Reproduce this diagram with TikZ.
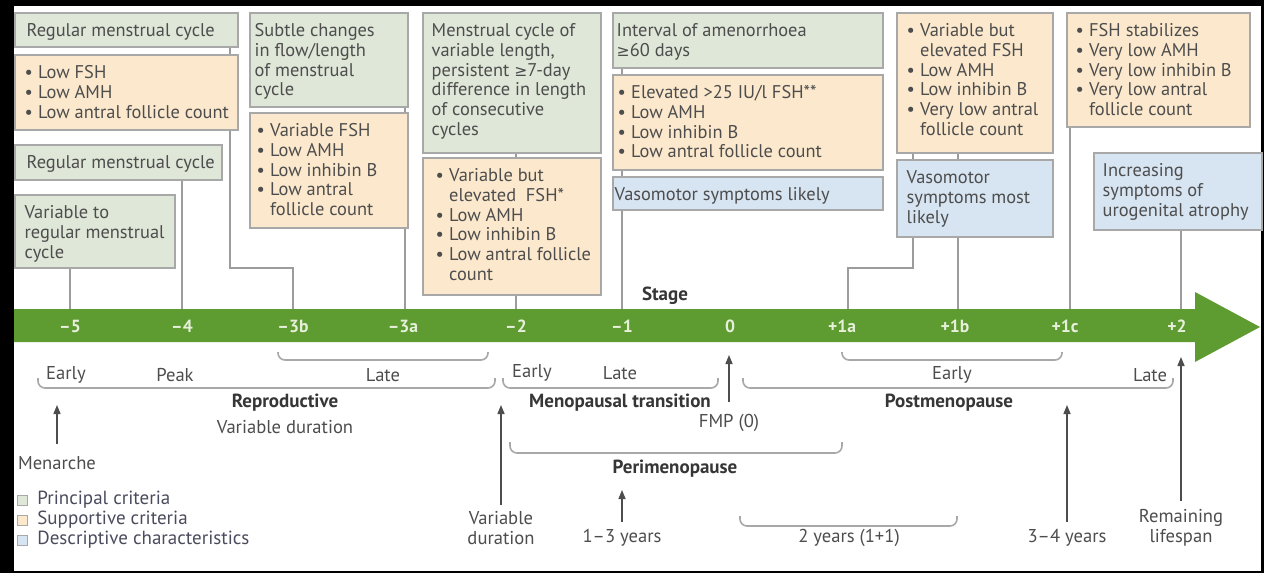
\documentclass[tikz,border=0pt]{standalone}
\usepackage{fontspec}
\setmainfont{PT Sans}
\newfontfamily\symf{DejaVu Sans}[Scale=0.85]
\usetikzlibrary{fit,arrows.meta}
\pgfdeclarelayer{frame}
\pgfdeclarelayer{back}
\pgfsetlayers{frame,back,main}
\definecolor{gfill}{HTML}{DFE7D8}
\definecolor{ofill}{HTML}{FCE9CD}
\definecolor{bfill}{HTML}{D7E4F1}
\definecolor{bord}{HTML}{A8A8A8}
\definecolor{agreen}{HTML}{5E9B31}
\definecolor{txtc}{HTML}{4D4D4D}
\definecolor{btxt}{HTML}{363636}
\definecolor{ticktxt}{HTML}{E6EFDA}
\definecolor{lnc}{HTML}{9C9C9C}
\definecolor{legc}{HTML}{4B4B5E}
\newcommand\plainL[1]{\begin{tabular}{@{}l@{}}#1\end{tabular}}
\newcommand\bulL[1]{\begin{tabular}{@{}l@{\hspace{2.6pt}}l@{}}#1\end{tabular}}
\newcommand\cb[8]{%
  \node[#1, fit={(#3,#4)(#5,#6)}] (#2) {};
  \node[txt, anchor=north west] (#2t) at ([xshift=#7,yshift=-5pt]#2.north west) {#8};
}
\begin{document}
\begin{tikzpicture}[x=0.5pt,y=-0.5pt,
  box/.style={draw=bord, line width=0.7pt, inner sep=0pt},
  gbox/.style={box, fill=gfill},
  obox/.style={box, fill=ofill},
  bbox/.style={box, fill=bfill},
  txt/.style={text=txtc, font=\fontsize{9.2}{9.9}\selectfont, inner sep=0pt},
  conn/.style={draw=lnc, line width=0.6pt},
  brc/.style={draw=bord, line width=0.8pt, rounded corners=3.5pt},
  uparr/.style={draw=txtc, line width=0.7pt, -{Triangle[length=4.5pt,width=3.5pt]}},
  lab/.style={text=txtc, font=\fontsize{9.3}{9.9}\selectfont, inner sep=1pt, align=center},
  blab/.style={lab, text=btxt, font=\fontsize{9.5}{9.9}\selectfont\bfseries},
  tick/.style={text=ticktxt, font=\fontsize{8.8}{9.7}\selectfont\bfseries, inner sep=0pt},
  lgsq/.style={draw=bord, line width=0.5pt, minimum size=5pt, inner sep=0pt},
  leg/.style={text=legc, font=\fontsize{9.5}{9.9}\selectfont, inner sep=1pt, anchor=west}]
\useasboundingbox (0,0) rectangle (1264,573);
\begin{pgfonlayer}{frame}
  \fill[black] (0,0) rectangle (1264,573);
  \fill[white] (14,6) rectangle (1261,571);
\end{pgfonlayer}

% boxes
\cb{gbox}{B1}{15}{13}{238}{47}{6pt}{\plainL{Regular menstrual cycle}}
\cb{obox}{B2}{15}{55}{238}{130}{5pt}{\bulL{\textbullet & Low FSH\\ \textbullet & Low AMH\\ \textbullet & Low antral follicle count}}
\cb{gbox}{B3}{15}{145}{222}{180}{6pt}{\plainL{Regular menstrual cycle}}
\cb{gbox}{B4}{15}{195}{175}{268}{5pt}{\plainL{Variable to\\ regular menstrual\\ cycle}}
\cb{gbox}{B5}{250}{13}{408}{107}{2.5pt}{\plainL{Subtle changes\\ in flow/length\\ of menstrual\\ cycle}}
\cb{obox}{B6}{250}{113}{408}{228}{3.5pt}{\bulL{\textbullet & Variable FSH\\ \textbullet & Low AMH\\ \textbullet & Low inhibin B\\ \textbullet & Low antral\\ & follicle count}}
\cb{gbox}{B7}{423}{13}{601}{153}{4.5pt}{\plainL{Menstrual cycle of\\ variable length,\\ persistent {\symf ≥}7-day\\ difference in length\\ of consecutive\\ cycles}}
\cb{obox}{B8}{423}{158}{601}{295}{6.5pt}{\bulL{\textbullet & Variable but\\ & elevated\ \ FSH*\\ \textbullet & Low AMH\\ \textbullet & Low inhibin B\\ \textbullet & Low antral follicle\\ & count}}
\cb{gbox}{B9}{613}{13}{883}{68}{2pt}{\plainL{Interval of amenorrhoea\\ {\symf ≥}60 days}}
\cb{obox}{B10}{613}{75}{883}{170}{2.5pt}{\bulL{\textbullet & Elevated >25 IU/l FSH**\\ \textbullet & Low AMH\\ \textbullet & Low inhibin B\\ \textbullet & Low antral follicle count}}
\cb{bbox}{B11}{613}{177}{883}{210}{1pt}{\plainL{Vasomotor symptoms likely}}
\cb{obox}{B12}{897}{13}{1053}{153}{5pt}{\bulL{\textbullet & Variable but\\ & elevated FSH\\ \textbullet & Low AMH\\ \textbullet & Low inhibin B\\ \textbullet & Very low antral\\ & follicle count}}
\cb{bbox}{B13}{897}{160}{1053}{237}{5pt}{\plainL{Vasomotor\\ symptoms most\\ likely}}
\cb{obox}{B14}{1067}{13}{1250}{127}{4.5pt}{\bulL{\textbullet & FSH stabilizes\\ \textbullet & Very low AMH\\ \textbullet & Very low inhibin B\\ \textbullet & Very low antral\\ & follicle count}}
\cb{bbox}{B15}{1094}{153}{1262}{230}{4.5pt}{\plainL{Increasing\\ symptoms of\\ urogenital atrophy}}

% tick coordinates on the top edge of the arrow
\coordinate (k1) at (70,309);
\coordinate (k2) at (182,309);
\coordinate (k3) at (293,309);
\coordinate (k4) at (405,309);
\coordinate (k5) at (516,309);
\coordinate (k6) at (622,309);
\coordinate (k8) at (848,309);
\coordinate (k9) at (958,309);
\coordinate (k10) at (1070,309);
\coordinate (k11) at (1181,309);
\coordinate (j1) at (230,268);
\coordinate (j2) at (913,268);

\begin{pgfonlayer}{back}
  \draw[conn] (B4.south -| k1) -- (k1);
  \draw[conn] (B3.south -| k2) -- (k2);
  \draw[conn] (B1.south -| j1) -- (j1) -| (k3);
  \draw[conn] (B5.south -| k4) -- (k4);
  \draw[conn] (B7.south -| k5) -- (k5);
  \draw[conn] (B9.south -| k6) -- (k6);
  \draw[conn] (B12.south -| j2) -- (j2) -| (k8);
  \draw[conn] (B12.south -| k9) -- (k9);
  \draw[conn] (B14.south -| k10) -- (k10);
  \draw[conn] (B15.south -| k11) -- (k11);
\end{pgfonlayer}

% green stage arrow
\fill[agreen] (14,309) -- (1195,309) -- (1195,292) -- (1260,327) -- (1195,362) -- (1195,342) -- (14,342) -- cycle;
\node[blab] (stage) at (665,296) {Stage};
\foreach \x/\t/\n in {70/–5/t1, 182/–4/t2, 293/–3b/t3, 403/–3a/t4, 516/–2/t5, 622/–1/t6, 730/0/t7, 842/+1a/t8, 955/+1b/t9, 1065/+1c/t10, 1177/+2/t11}
  \node[tick] (\n) at (\x,326) {\t};

% braces
\draw[brc] (278,352) -- (278,360) -- (488,360) -- (488,352);
\draw[brc] (38,378) -- (38,388) -- (495,388) -- (495,378);
\draw[brc] (503,378) -- (503,388) -- (718,388) -- (718,378);
\draw[brc] (743,378) -- (743,388) -- (1173,388) -- (1173,378);
\draw[brc] (842,352) -- (842,360) -- (1062,360) -- (1062,352);
\draw[brc] (510,442) -- (510,453) -- (842,453) -- (842,442);
\draw[brc] (740,516) -- (740,526) -- (957,526) -- (957,516);

% labels
\node[lab] (e1) at (66,375) {Early};
\node[lab] (pk) at (175,375) {Peak};
\node[lab] (lt1) at (383,375) {Late};
\node[blab] (rep) at (285,403) {Reproductive};
\node[lab] (vd1) at (285,427) {Variable duration};
\node[lab] (men) at (57,463) {Menarche};
\node[lab] (e2) at (532,373) {Early};
\node[lab] (lt2) at (620,373) {Late};
\node[blab] (mt) at (620,403) {Menopausal transition};
\node[lab] (fmp) at (729,423) {FMP (0)};
\node[blab] (peri) at (675,469) {Perimenopause};
\node[lab] (vd2) at (501,528) {Variable\\ duration};
\node[lab] (y13) at (622,538) {1–3 years};
\node[lab] (y2) at (849,538) {2 years (1+1)};
\node[lab] (e3) at (952,375) {Early};
\node[lab] (lt3) at (1150,375) {Late};
\node[blab] (post) at (949,403) {Postmenopause};
\node[lab] (y34) at (1067,538) {3–4 years};
\node[lab] (rl) at (1181,528) {Remaining\\ lifespan};

% arrows
\coordinate (aMen) at (57,405);
\coordinate (aVD) at (501,405);
\coordinate (aFMP) at (729,355);
\coordinate (a13) at (622,490);
\coordinate (a34) at (1067,405);
\coordinate (aRL) at (1181,357);
\draw[uparr, shorten <=5pt] (men.north) -- (aMen);
\draw[uparr, shorten <=2pt] (vd2.north) -- (aVD);
\draw[uparr, shorten <=5pt] (fmp.north) -- (aFMP);
\draw[uparr, shorten <=2.5pt] (y13.north) -- (a13);
\draw[uparr, shorten <=2.5pt] (y34.north) -- (a34);
\draw[uparr, shorten <=3pt] (rl.north) -- (aRL);

% legend
\node[lgsq, fill=gfill] (lg1) at (22,500) {};
\node[lgsq, fill=ofill] (lg2) at (22,520) {};
\node[lgsq, fill=bfill] (lg3) at (22,540) {};
\node[leg] (lg1t) at (35,500) {Principal criteria};
\node[leg] (lg2t) at (35,520) {Supportive criteria};
\node[leg] (lg3t) at (35,540) {Descriptive characteristics};
\end{tikzpicture}
\end{document}
